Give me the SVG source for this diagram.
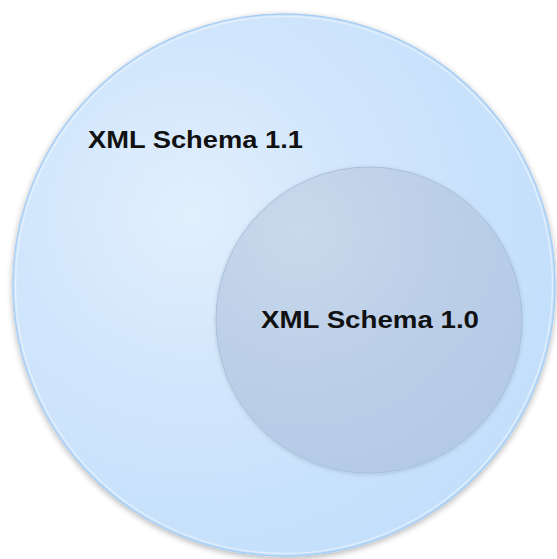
<svg xmlns="http://www.w3.org/2000/svg" width="557" height="559" viewBox="0 0 557 559">
  <defs>
    <radialGradient id="gBig" cx="190" cy="215" r="380" gradientUnits="userSpaceOnUse">
      <stop offset="0" stop-color="#e2effd"/>
      <stop offset="0.45" stop-color="#d1e6fc"/>
      <stop offset="1" stop-color="#c3dffb"/>
    </radialGradient>
    <radialGradient id="gSmall" cx="300" cy="230" r="260" gradientUnits="userSpaceOnUse">
      <stop offset="0" stop-color="#c9d9ec"/>
      <stop offset="0.5" stop-color="#bdd0e8"/>
      <stop offset="1" stop-color="#b4cae6"/>
    </radialGradient>
    <filter id="shadow" x="-10%" y="-10%" width="120%" height="120%">
      <feGaussianBlur in="SourceAlpha" stdDeviation="3"/>
      <feOffset dx="0" dy="2"/>
      <feComponentTransfer><feFuncA type="linear" slope="0.3"/></feComponentTransfer>
      <feMerge><feMergeNode/><feMergeNode in="SourceGraphic"/></feMerge>
    </filter>
    <filter id="shadow2" x="-10%" y="-10%" width="120%" height="120%">
      <feGaussianBlur in="SourceAlpha" stdDeviation="2"/>
      <feOffset dx="0" dy="1"/>
      <feComponentTransfer><feFuncA type="linear" slope="0.15"/></feComponentTransfer>
      <feMerge><feMergeNode/><feMergeNode in="SourceGraphic"/></feMerge>
    </filter>
  </defs>
  <style>
    .lbl { font-family: "Liberation Sans", Arial, sans-serif; font-weight: bold; font-size: 23px; fill: #111111; }
  </style>
  <rect width="557" height="559" fill="#ffffff"/>
  <g id="schema11">
    <circle cx="284" cy="285" r="271" fill="url(#gBig)" stroke="#a9cff5" stroke-width="1.5" filter="url(#shadow)"/>
    <circle cx="284" cy="285" r="268.5" fill="none" stroke="#e6f1fd" stroke-width="1.5" opacity="0.8"/>
    <text class="lbl" x="88" y="148" textLength="215" lengthAdjust="spacingAndGlyphs">XML Schema 1.1</text>
  </g>
  <g id="schema10">
    <circle cx="369" cy="320" r="153" fill="url(#gSmall)" stroke="#a8bfdc" stroke-width="1" filter="url(#shadow2)"/>
    <text class="lbl" x="261" y="328" textLength="218" lengthAdjust="spacingAndGlyphs">XML Schema 1.0</text>
  </g>
  <g id="connectors"/>
</svg>
